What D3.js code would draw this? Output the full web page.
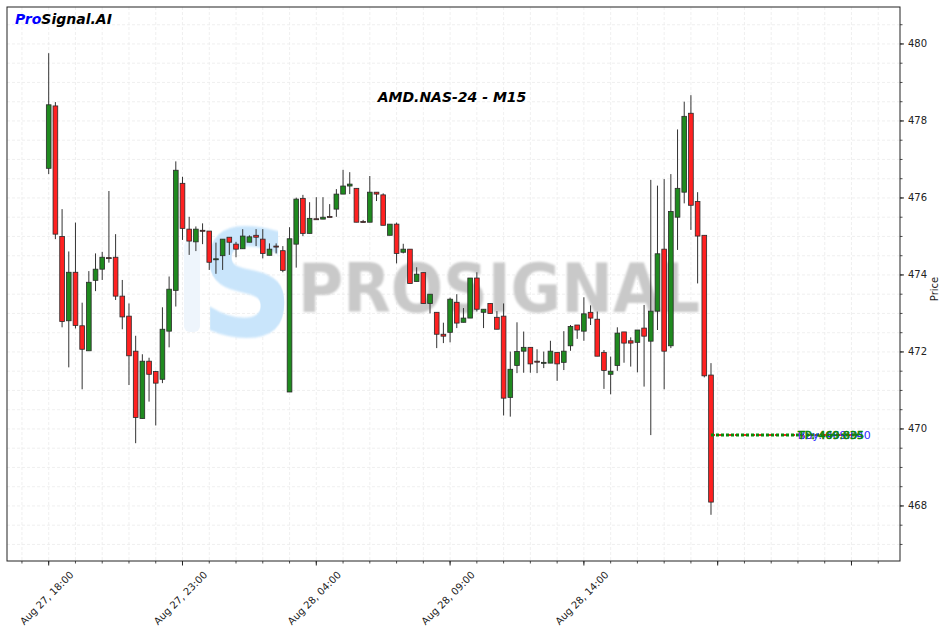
<!DOCTYPE html>
<html>
<head>
<meta charset="utf-8">
<script src="https://cdn.jsdelivr.net/npm/d3@7"></script>
<style>
  html, body { margin: 0; padding: 0; background: #fff; }
  svg { display: block; font-family: "DejaVu Sans", sans-serif; }
</style>
</head>
<body>
<svg id="chart" width="947" height="632"></svg>
<script>
// ---------------- DATA ----------------
const startTime = "2024-08-27T18:00:00Z";   // first candle, 15-minute bars
const opens  = [476.77,478.39,475.00,472.81,474.07,472.68,472.03,473.86,474.15,474.45,
                474.46,473.45,472.93,472.02,470.27,471.76,471.49,471.29,472.54,473.60,
                476.38,475.19,474.86,475.16,475.14,474.40,474.50,474.98,474.80,474.68,
                474.85,475.03,474.93,474.51,474.75,474.63,470.96,474.80,475.99,475.08,
                475.46,475.45,475.52,475.71,476.10,476.31,476.25,475.39,475.37,476.15,
                476.08,475.03,475.32,474.59,474.67,473.83,474.06,473.26,473.03,472.46,
                472.51,473.29,472.77,472.88,473.92,473.03,473.26,472.90,472.93,470.82,
                471.65,472.02,472.12,471.76,471.72,471.71,471.99,471.73,472.16,472.70,
                472.54,473.03,472.85,471.99,471.42,471.65,472.52,472.29,472.25,472.62,
                472.28,473.06,474.67,472.16,475.50,476.15,478.20,475.91,475.03,471.40];
const highs  = [479.76,478.49,475.71,474.61,475.36,473.28,474.10,474.56,474.60,476.18,
                475.06,473.87,473.26,472.42,471.94,471.85,471.51,473.16,473.96,476.95,
                476.55,475.51,475.26,475.34,475.14,474.84,474.93,474.98,474.86,475.19,
                475.03,475.19,475.19,474.82,474.82,474.75,475.24,476.01,476.08,475.89,
                476.02,476.02,475.84,476.23,476.73,476.67,476.25,475.43,476.57,476.15,
                476.12,475.32,475.36,474.81,474.67,474.20,474.06,473.50,473.03,472.76,
                473.41,473.50,473.14,473.92,474.07,473.11,473.26,473.06,473.26,472.01,
                472.77,472.53,472.12,472.07,472.01,472.29,471.99,472.54,472.70,472.70,
                473.42,473.21,473.05,472.05,471.88,472.64,472.52,472.38,472.57,473.22,
                476.47,476.32,476.49,476.62,477.78,478.50,478.67,476.15,475.03,471.71];
const lows   = [476.62,474.93,472.64,471.60,472.61,471.03,472.03,473.58,473.87,474.32,
                473.35,472.59,471.14,469.63,470.27,470.71,470.09,471.19,472.12,473.18,
                474.91,474.52,474.62,474.80,474.13,474.03,474.13,474.52,474.46,474.68,
                474.85,474.75,474.43,474.51,474.56,474.07,470.96,474.19,475.01,475.08,
                475.44,475.45,475.50,475.51,476.10,476.10,475.37,475.36,475.37,475.92,
                475.29,475.03,474.30,474.56,473.78,473.83,473.26,473.00,472.10,472.23,
                472.25,472.62,472.77,472.88,473.05,472.62,473.00,472.59,470.35,470.32,
                471.45,471.46,471.46,471.45,471.58,471.71,471.25,471.53,472.03,472.34,
                472.29,472.70,471.89,471.04,470.90,471.51,471.72,471.62,471.47,471.10,
                469.84,472.57,471.03,472.10,474.65,475.86,475.17,473.78,471.34,467.77];
const closes = [478.42,475.06,472.79,474.07,472.69,472.07,473.81,474.15,474.46,474.43,
                473.45,472.91,471.90,470.30,471.76,471.42,471.19,472.59,473.63,476.72,
                475.21,474.88,475.19,475.14,474.33,474.42,474.93,474.85,474.67,475.01,
                474.99,474.98,474.56,474.67,474.73,474.12,474.94,475.97,475.08,475.47,
                475.45,475.50,475.51,476.10,476.31,476.36,475.37,475.38,476.15,476.10,
                475.29,475.32,474.56,474.67,473.78,474.02,473.26,473.50,472.46,472.41,
                473.37,472.75,472.88,473.92,473.11,473.11,473.00,472.59,470.80,471.55,
                472.01,472.12,471.69,471.75,471.73,472.02,471.69,472.02,472.66,472.57,
                472.99,472.88,471.89,471.52,471.50,472.49,472.23,472.23,472.57,472.41,
                473.06,474.55,472.02,475.65,476.25,478.12,475.81,475.01,471.38,468.10];

const signalPrice = 469.84;
const signalStart = "2024-08-28T18:45:00Z";
const signalEnd   = "2024-08-29T00:15:00Z";
const signalLabelTime = "2024-08-28T22:00:00Z";
const signalLabels = ["SL: 469.835", "Buy: 469.840", "TP: 469.835"];

const yTickValues = [468, 470, 472, 474, 476, 478, 480];
const xTickTimes  = ["2024-08-27T18:00:00Z","2024-08-27T23:00:00Z","2024-08-28T04:00:00Z",
                     "2024-08-28T09:00:00Z","2024-08-28T14:00:00Z","2024-08-28T19:00:00Z",
                     "2024-08-29T00:00:00Z"];
const xTickLabels = ["Aug 27, 18:00","Aug 27, 23:00","Aug 28, 04:00","Aug 28, 09:00",
                     "Aug 28, 14:00","",""];
const chartTitle = "AMD.NAS-24 - M15";
const yAxisTitle = "Price";

// ---------------- LAYOUT ----------------
const svg = d3.select("#chart");
const L = 7, R = 900, T = 7, B = 561;
const t0 = new Date(startTime);
const times = opens.map((_, i) => d3.utcMinute.offset(t0, 15 * i));

const x = d3.scaleUtc()
  .domain([d3.utcSecond.offset(t0, -93.5 * 60), d3.utcSecond.offset(t0, 1908.8 * 60)])
  .range([L, R]);
const y = d3.scaleLinear().domain([466.57, 480.96]).range([B, T]);

const barStep = x(times[1]) - x(times[0]);
const bodyW = barStep * 0.7;

// minor ticks
const xMinor = d3.utcMinute.every(75).range(d3.utcMinute.offset(t0, -75), x.domain()[1]);
const yMinor = d3.range(467, 481, 0.5);

// grid
const grid = svg.append("g");
grid.selectAll("line.gx").data(xMinor).join("line")
  .attr("x1", d => x(d)).attr("x2", d => x(d)).attr("y1", T).attr("y2", B)
  .attr("stroke", "#ececec").attr("stroke-width", 0.8).attr("stroke-dasharray", "3,2");
grid.selectAll("line.gy").data(yMinor).join("line")
  .attr("x1", L).attr("x2", R).attr("y1", d => y(d)).attr("y2", d => y(d))
  .attr("stroke", "#ececec").attr("stroke-width", 0.8).attr("stroke-dasharray", "3,2");

// watermark
const wm = svg.append("g");
wm.append("rect").attr("x", 184).attr("y", 240).attr("width", 16).attr("height", 92)
  .attr("rx", 6).attr("fill", "#eef5fc");
wm.append("text").attr("x", 0).attr("y", 0)
  .attr("transform", "translate(247,336) scale(0.88,1)")
  .attr("text-anchor", "middle").attr("font-size", 148).attr("font-weight", "bold")
  .attr("font-family", "DejaVu Sans").attr("fill", "#c9e5fb")
  .attr("style", "filter: blur(0.8px)").text("S");
wm.append("text").attr("x", 298).attr("y", 312)
  .attr("font-size", 68).attr("font-weight", "bold").attr("font-family", "DejaVu Sans")
  .attr("textLength", 402).attr("lengthAdjust", "spacingAndGlyphs")
  .attr("fill", "#c9c9c9").attr("style", "filter: blur(1.3px)").text("PROSIGNAL");

// candles
const idx = d3.range(opens.length);
const candles = svg.append("g");
candles.selectAll("line.wick").data(idx).join("line")
  .attr("x1", i => x(times[i])).attr("x2", i => x(times[i]))
  .attr("y1", i => y(highs[i])).attr("y2", i => y(lows[i]))
  .attr("stroke", "#333").attr("stroke-width", 1);
candles.selectAll("rect.body").data(idx).join("rect")
  .attr("x", i => x(times[i]) - bodyW / 2)
  .attr("y", i => y(Math.max(opens[i], closes[i])))
  .attr("width", bodyW)
  .attr("height", i => Math.max(1, Math.abs(y(opens[i]) - y(closes[i]))))
  .attr("fill", i => closes[i] >= opens[i] ? "#1f8a1f" : "#ff2121")
  .attr("stroke", "#2a2a2a").attr("stroke-width", 0.8);

// signal line + labels
const sig = svg.append("g");
sig.append("line")
  .attr("x1", x(new Date(signalStart))).attr("x2", x(new Date(signalEnd)))
  .attr("y1", y(signalPrice)).attr("y2", y(signalPrice))
  .attr("stroke", "#ff2020").attr("stroke-width", 2).attr("stroke-dasharray", "4,4");
sig.append("line")
  .attr("x1", x(new Date(signalStart))).attr("x2", x(new Date(signalEnd)))
  .attr("y1", y(signalPrice)).attr("y2", y(signalPrice))
  .attr("stroke", "#0a8a0a").attr("stroke-width", 3).attr("stroke-dasharray", "3,2");
const lx = x(new Date(signalLabelTime));
const labelColors = ["#ff2020", "#2a2aff", "#0a8a0a"];
signalLabels.forEach((t, k) => {
  sig.append("text").attr("x", lx).attr("y", y(signalPrice) + 4)
    .attr("font-size", 11).attr("fill", labelColors[k])
    .attr("stroke", k === 2 ? labelColors[k] : "none").attr("stroke-width", 0.6)
    .text(t);
});

// frame
svg.append("rect").attr("x", L).attr("y", T).attr("width", R - L).attr("height", B - T)
  .attr("fill", "none").attr("stroke", "#222").attr("stroke-width", 1);

// right y axis
const yAxis = svg.append("g").attr("transform", `translate(${R},0)`);
yAxis.selectAll("line.minor").data(yMinor).join("line")
  .attr("x1", 0).attr("x2", 2.5).attr("y1", d => y(d)).attr("y2", d => y(d))
  .attr("stroke", "#222").attr("stroke-width", 0.8);
yAxis.selectAll("line.major").data(yTickValues).join("line")
  .attr("x1", 0).attr("x2", 4).attr("y1", d => y(d)).attr("y2", d => y(d))
  .attr("stroke", "#222").attr("stroke-width", 1);
yAxis.selectAll("text").data(yTickValues).join("text")
  .attr("x", 8).attr("y", d => y(d)).attr("dy", "0.35em")
  .attr("font-size", 10).attr("fill", "#222").text(d => d3.format("d")(d));
svg.append("text").attr("transform", `translate(938,${(T + B) / 2 + 5}) rotate(-90)`)
  .attr("text-anchor", "middle").attr("font-size", 10).attr("fill", "#222").text(yAxisTitle);

// bottom x axis
const xAxis = svg.append("g").attr("transform", `translate(0,${B})`);
xAxis.selectAll("line.minor").data(xMinor.filter(d => x(d) > L && x(d) < R)).join("line")
  .attr("x1", d => x(d)).attr("x2", d => x(d)).attr("y1", 0).attr("y2", 2.5)
  .attr("stroke", "#222").attr("stroke-width", 0.8);
const xt = xTickTimes.map(s => new Date(s));
xAxis.selectAll("line.major").data(xt).join("line")
  .attr("x1", d => x(d)).attr("x2", d => x(d)).attr("y1", 0).attr("y2", 4.5)
  .attr("stroke", "#222").attr("stroke-width", 1);
xAxis.selectAll("text").data(xt).join("text")
  .attr("transform", d => `translate(${x(d) - 2},${37}) rotate(-45)`)
  .attr("text-anchor", "middle").attr("dy", "0.35em")
  .attr("font-size", 10).attr("fill", "#222").text((d, i) => xTickLabels[i]);

// title + logo
svg.append("text").attr("x", 452).attr("y", 102).attr("text-anchor", "middle")
  .attr("font-size", 14).attr("font-weight", "bold").attr("font-style", "italic")
  .attr("fill", "#000").text(chartTitle);
const logo = svg.append("text").attr("x", 15).attr("y", 24)
  .attr("font-size", 14).attr("font-weight", "bold").attr("font-style", "italic");
logo.append("tspan").attr("fill", "#0000ff").text("Pro");
logo.append("tspan").attr("fill", "#000").text("Signal.AI");
</script>
</body>
</html>
